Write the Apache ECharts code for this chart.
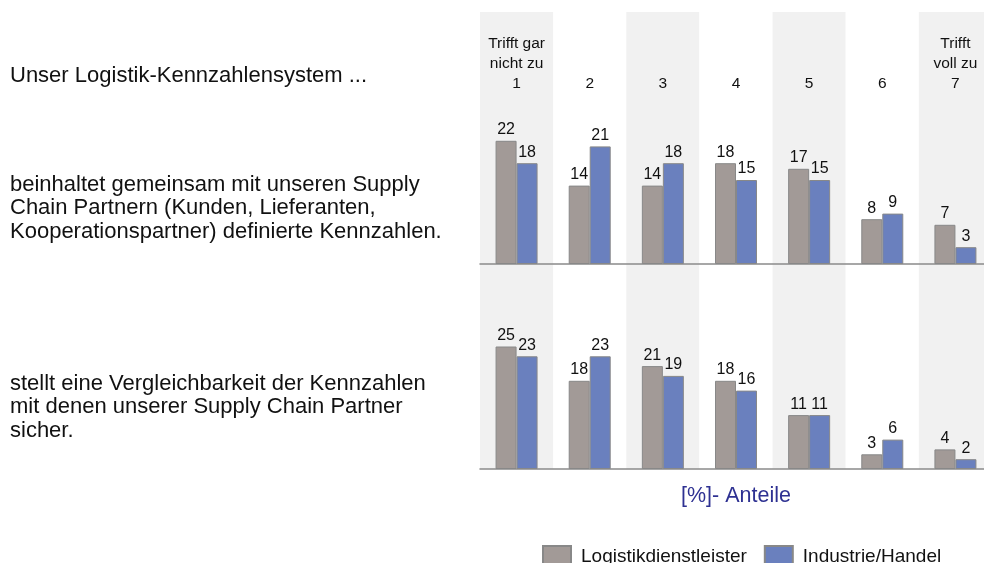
<!DOCTYPE html>
<html>
<head>
<meta charset="utf-8">
<script src="https://cdn.jsdelivr.net/npm/echarts@6/dist/echarts.min.js"></script>
<style>
  html, body { margin: 0; padding: 0; background: #fff; }
  #chart { width: 984px; height: 563px; }
</style>
</head>
<body>
<div id="chart"></div>
<script>
// Skala 1..7
const categories = ['1', '2', '3', '4', '5', '6', '7'];
const tickLabels = ['Trifft gar\nnicht zu\n1', '2', '3', '4', '5', '6', 'Trifft\nvoll zu\n7'];

// Aussage 1: gemeinsam definierte Kennzahlen
const logistikTop = [22, 14, 14, 18, 17, 8, 7];
const industrieTop = [18, 21, 18, 15, 15, 9, 3];

// Aussage 2: Vergleichbarkeit der Kennzahlen
const logistikBottom = [25, 18, 21, 18, 11, 3, 4];
const industrieBottom = [23, 23, 19, 16, 11, 6, 2];

const seriesNames = ['Logistikdienstleister', 'Industrie/Handel'];
const rowTexts = [
  'Unser Logistik-Kennzahlensystem ...',
  'beinhaltet gemeinsam mit unseren Supply\nChain Partnern (Kunden, Lieferanten,\nKooperationspartner) definierte Kennzahlen.',
  'stellt eine Vergleichbarkeit der Kennzahlen\nmit denen unserer Supply Chain Partner\nsicher.'
];

const FONT = '"Liberation Sans", Arial, sans-serif';
const GREY = '#a29a97';
const BLUE = '#6a80be';

const chart = echarts.init(document.getElementById('chart'));

const barLabel = {
  show: true,
  position: 'top',
  distance: 3,
  color: '#111',
  fontSize: 16,
  fontFamily: FONT
};

const makeBar = (name, data, color, xIdx, yIdx) => ({
  name,
  type: 'bar',
  xAxisIndex: xIdx,
  yAxisIndex: yIdx,
  data,
  barWidth: 21,
  barGap: '0%',
  itemStyle: { color, borderColor: '#888', borderWidth: 1 },
  label: barLabel,
  animation: false
});

const baseLine = { show: true, lineStyle: { color: '#8a8a8a', width: 1.5 } };
// Raster läuft über den rechten Rand hinaus (Spalte 7 ist angeschnitten)
const GRID_W = 512;

const textStyleLeft = { fontSize: 22, lineHeight: 23.5, fill: '#111', fontFamily: FONT };

const gridBase = { left: 480, width: GRID_W, outerBoundsMode: 'none', containLabel: false };

const option = {
  animation: false,
  textStyle: { fontFamily: FONT },
  grid: [
    Object.assign({ top: 12, bottom: 94 }, gridBase),
    Object.assign({ top: 96, height: 168 }, gridBase),
    Object.assign({ top: 273, bottom: 94 }, gridBase)
  ],
  xAxis: [
    {
      type: 'category', gridIndex: 0, data: categories,
      axisLine: { show: false }, axisTick: { show: false }, axisLabel: { show: false },
      splitArea: { show: true, interval: 0, areaStyle: { color: ['#f1f1f1', '#ffffff'] } }
    },
    {
      type: 'category', gridIndex: 1, data: categories, position: 'bottom',
      axisLine: baseLine, axisTick: { show: false }, axisLabel: { show: false }
    },
    {
      type: 'category', gridIndex: 1, data: tickLabels, position: 'top',
      axisLine: { show: false }, axisTick: { show: false },
      axisLabel: { interval: 0, margin: 2, fontSize: 15.5, lineHeight: 20, color: '#111', fontFamily: FONT }
    },
    {
      type: 'category', gridIndex: 2, data: categories, position: 'bottom',
      axisLine: baseLine, axisTick: { show: false }, axisLabel: { show: false },
      name: '[%]- Anteile', nameLocation: 'middle', nameGap: 16,
      nameTextStyle: { color: '#2e3192', fontSize: 21.5, fontFamily: FONT }
    }
  ],
  yAxis: [
    { type: 'value', gridIndex: 0, min: 0, max: 1, show: false },
    { type: 'value', gridIndex: 1, min: 0, max: 30, show: false },
    { type: 'value', gridIndex: 2, min: 0, max: 40, show: false }
  ],
  legend: {
    left: 537, top: 540,
    itemWidth: 28, itemHeight: 21, itemGap: 17,
    icon: 'rect',
    data: seriesNames,
    textStyle: { fontSize: 19, color: '#111', fontFamily: FONT, padding: [0, 0, 0, 5] }
  },
  graphic: [
    { type: 'text', left: 10, top: 64, style: Object.assign({ text: rowTexts[0] }, textStyleLeft) },
    { type: 'text', left: 10, top: 173, style: Object.assign({ text: rowTexts[1] }, textStyleLeft) },
    { type: 'text', left: 10, top: 372, style: Object.assign({ text: rowTexts[2] }, textStyleLeft) }
  ],
  series: [
    makeBar(seriesNames[0], logistikTop, GREY, 1, 1),
    makeBar(seriesNames[1], industrieTop, BLUE, 1, 1),
    makeBar(seriesNames[0], logistikBottom, GREY, 3, 2),
    makeBar(seriesNames[1], industrieBottom, BLUE, 3, 2)
  ]
};

chart.setOption(option);
</script>
</body>
</html>
